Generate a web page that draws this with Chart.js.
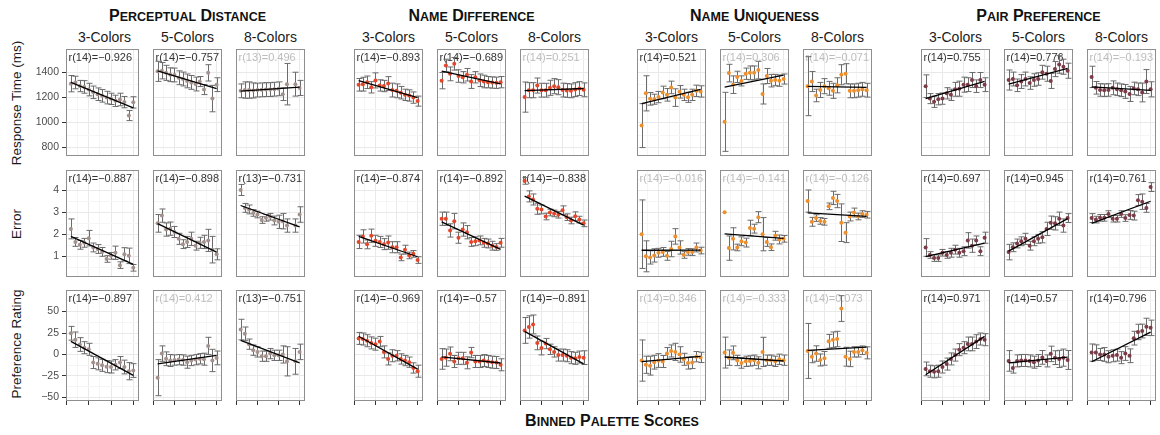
<!DOCTYPE html>
<html>
<head>
<meta charset="utf-8">
<title>Binned palette scores</title>
<script src="https://cdn.jsdelivr.net/npm/chart.js@4.4.1/dist/chart.umd.min.js"></script>
<style>
  body { margin: 0; background: #ffffff; }
  #wrap { position: relative; width: 1160px; height: 435px; overflow: hidden;
          font-family: "Liberation Sans", Arial, Helvetica, sans-serif; color: #1a1a1a; }
  #wrap canvas { position: absolute; }
  .group-title { position: absolute; top: 8px; font-weight: bold; font-size: 16px; line-height: 16px;
                 white-space: nowrap; transform: translateX(-50%); color: #111; }
  .group-title .sc { font-size: 12.5px; text-transform: uppercase; }
  .strip { position: absolute; top: 30px; font-size: 14px; line-height: 14px; white-space: nowrap;
           transform: translateX(-50%); color: #1a1a1a; }
  .y-title { position: absolute; left: 17px; font-size: 13.5px; line-height: 14px; white-space: nowrap;
             transform: translate(-50%, -50%) rotate(-90deg); color: #1a1a1a; }
</style>
</head>
<body>
<div id="wrap"></div>
<script>
// ---- categories -------------------------------------------------------------
const metrics = ['Perceptual Distance', 'Name Difference', 'Name Uniqueness', 'Pair Preference'];
const paletteSizes = ['3-Colors', '5-Colors', '8-Colors'];
const measures = ['Response Time (ms)', 'Error', 'Preference Rating'];
const xTitle = 'Binned Palette Scores';
const bins = [1, 2, 3, 4, 5, 6, 7, 8, 9, 10, 11, 12, 13, 14, 15];
const binTicks = [0, 5, 10, 15];
const metricColors = ['#a3918d', '#e2472b', '#ee8f2d', '#7b3b47'];

// ---- tick labels / axis limits per measure ----------------------------------
const rtTicks = [800, 1000, 1200, 1400];
const errorTicks = [1, 2, 3, 4];
const prefTicks = [-50, -25, 0, 25, 50];
const rtLimits = [733, 1585];
const errorLimits = [0.074, 4.913];
const prefLimits = [-54.2, 75.1];
const binLimits = [-0.1, 16.28];

// ---- response time (ms): bin means, [3, 5, 8 colours] ----------------------
const rtPerceptual = [
  [1309, 1318, 1290, 1283, 1262, 1240, 1225, 1212, 1198, 1188, 1172, 1183, 1162, 1055, 1160],
  [1407, 1412, 1395, 1380, 1378, 1356, 1346, 1331, 1319, 1306, 1326, 1262, 1395, 1190, 1301],
  [1252, 1258, 1258, 1255, 1258, 1260, 1262, 1262, 1265, 1268, 1225, 1305, null, 1305, 1275]
];
const rtNameDifference = [
  [1300, 1305, 1320, 1280, 1335, 1295, 1290, 1310, 1258, 1252, 1237, 1220, 1215, 1198, 1170],
  [1333, 1454, 1387, 1467, 1370, 1360, 1380, 1326, 1360, 1336, 1326, 1321, 1318, 1316, 1321],
  [1202, 1257, 1257, 1294, 1257, 1257, 1276, 1289, 1281, 1258, 1255, 1252, 1262, 1270, 1260]
];
const rtNameUniqueness = [
  [975, 1232, 1188, 1185, 1202, 1239, 1220, 1279, 1198, 1244, 1220, 1200, 1220, 1252, 1247],
  [1005, 1393, 1301, 1363, 1331, 1388, 1395, 1395, 1417, 1227, 1370, 1333, 1338, 1333, 1346],
  [1289, 1326, 1215, 1259, 1289, 1272, 1252, 1296, 1380, 1388, 1252, 1252, 1257, 1264, 1257]
];
const rtPairPreference = [
  [1289, 1190, 1165, 1185, 1190, 1232, 1220, 1264, 1269, 1301, 1301, 1338, 1289, 1338, 1301],
  [1338, 1346, 1296, 1326, 1346, 1314, 1338, 1346, 1400, 1388, 1331, 1425, 1462, 1444, 1412],
  [1363, 1276, 1259, 1257, 1259, 1276, 1264, 1257, 1247, 1227, 1271, 1264, 1239, 1326, 1264]
];
// 95% CI half-widths
const rtPerceptualCI = [
  [65, 50, 45, 50, 50, 50, 50, 50, 50, 45, 45, 50, 45, 40, 45],
  [80, 65, 60, 55, 55, 55, 55, 55, 55, 55, 40, 40, 65, 105, 55],
  [55, 65, 65, 60, 55, 55, 55, 55, 55, 55, 50, 165, null, 95, 60]
];
const rtNameDifferenceCI = [
  [50, 55, 50, 45, 60, 45, 45, 55, 55, 55, 50, 45, 45, 45, 40],
  [65, 50, 55, 50, 50, 45, 50, 55, 45, 50, 50, 45, 45, 45, 45],
  [120, 60, 60, 60, 55, 55, 60, 60, 60, 55, 55, 55, 55, 55, 55]
];
const rtNameUniquenessCI = [
  [175, 140, 50, 40, 45, 50, 50, 50, 70, 50, 45, 40, 45, 45, 45],
  [235, 70, 70, 45, 40, 45, 55, 55, 70, 80, 60, 50, 45, 45, 40],
  [235, 80, 50, 60, 60, 55, 60, 60, 80, 80, 55, 55, 55, 55, 55]
];
const rtPairPreferenceCI = [
  [90, 40, 45, 45, 45, 45, 45, 55, 60, 60, 55, 60, 50, 60, 55],
  [80, 55, 50, 55, 55, 50, 50, 50, 55, 60, 60, 60, 70, 60, 60],
  [85, 50, 50, 50, 50, 55, 50, 50, 55, 60, 50, 50, 75, 95, 60]
];

// ---- error ------------------------------------------------------------------
const errPerceptual = [
  [2.25, 1.66, 1.53, 1.62, 1.83, 1.41, 1.34, 1.21, 0.89, 1.03, 1.17, 0.61, 1.1, 1.03, 0.49],
  [2.5, 2.85, 2.22, 2.26, 2.11, 1.8, 1.56, 1.66, 1.8, 1.49, 1.62, 1.66, 1.73, 1.31, 1.1],
  [4.01, 3.2, 3.13, 2.97, 2.9, 2.65, 2.75, 2.8, 2.63, 2.57, 2.6, 2.4, null, 2.4, 2.9]
];
const errNameDifference = [
  [1.66, 1.91, 1.55, 1.94, 1.71, 1.66, 1.56, 1.63, 1.42, 1.42, 0.96, 1.31, 1.05, 1.12, 0.84],
  [2.71, 2.71, 2.18, 2.6, 1.85, 2.22, 2.1, 1.66, 1.69, 1.73, 1.62, 1.59, 1.49, 1.43, 1.62],
  [4.42, 3.72, 3.58, 3.16, 3.13, 2.81, 2.99, 2.95, 2.89, 3.09, 2.78, 2.63, 2.82, 2.67, 2.5]
];
const errNameUniqueness = [
  [2.01, 1.01, 0.96, 1.05, 1.17, 1.21, 1.03, 1.34, 1.91, 1.41, 1.07, 1.21, 1.2, 1.41, 1.27],
  [3.0, 1.38, 1.8, 1.41, 1.69, 1.63, 2.29, 2.26, 2.78, 2.01, 1.66, 1.42, 1.94, 1.77, 1.8],
  [3.51, 2.57, 2.74, 2.61, 2.57, 3.27, 3.65, 3.51, 2.53, 2.08, 2.81, 2.99, 2.81, 2.92, 2.89]
];
const errPairPreference = [
  [1.41, 1.07, 0.93, 0.93, 1.17, 1.07, 1.17, 1.31, 1.17, 1.24, 1.73, 1.49, 1.73, 1.24, 1.85],
  [1.2, 1.42, 1.59, 1.69, 1.8, 1.49, 1.69, 1.8, 1.87, 2.25, 2.53, 2.5, 2.71, 2.4, 2.74],
  [2.74, 2.67, 2.75, 2.75, 2.92, 2.71, 2.71, 2.92, 2.74, 2.88, 2.85, 3.55, 3.48, 3.2, 4.14]
];
const errPerceptualCI = [
  [0.45, 0.2, 0.2, 0.2, 0.35, 0.2, 0.2, 0.2, 0.15, 0.15, 0.3, 0.15, 0.3, 0.35, 0.15],
  [0.4, 0.3, 0.3, 0.3, 0.25, 0.25, 0.2, 0.25, 0.3, 0.2, 0.25, 0.3, 0.5, 0.6, 0.25],
  [0.25, 0.2, 0.2, 0.15, 0.15, 0.15, 0.15, 0.15, 0.2, 0.3, 0.35, 0.3, null, 0.3, 0.35]
];
const errNameDifferenceCI = [
  [0.3, 0.3, 0.2, 0.3, 0.25, 0.25, 0.25, 0.3, 0.25, 0.25, 0.15, 0.2, 0.15, 0.15, 0.15],
  [0.3, 0.3, 0.3, 0.35, 0.25, 0.3, 0.3, 0.2, 0.2, 0.2, 0.2, 0.2, 0.2, 0.15, 0.2],
  [0.15, 0.25, 0.25, 0.25, 0.2, 0.15, 0.15, 0.15, 0.15, 0.2, 0.15, 0.15, 0.2, 0.15, 0.15]
];
const errNameUniquenessCI = [
  [1.55, 0.7, 0.3, 0.3, 0.2, 0.2, 0.2, 0.35, 0.35, 0.3, 0.15, 0.15, 0.15, 0.2, 0.15],
  [0, 0.55, 0.5, 0.15, 0.2, 0.2, 0.35, 0.2, 0.25, 0.75, 0.2, 0.15, 0.2, 0.2, 0.15],
  [0.5, 0.2, 0.15, 0.15, 0.15, 0.15, 0.3, 0.3, 0.85, 0.45, 0.2, 0.2, 0.15, 0.15, 0.15]
];
const errPairPreferenceCI = [
  [0.4, 0.15, 0.15, 0.15, 0.15, 0.15, 0.2, 0.2, 0.2, 0.2, 0.35, 0.3, 0.2, 0.2, 0.25],
  [0.35, 0.2, 0.2, 0.2, 0.25, 0.2, 0.2, 0.2, 0.25, 0.3, 0.3, 0.3, 0.3, 0.3, 0.2],
  [0.2, 0.15, 0.15, 0.15, 0.15, 0.15, 0.15, 0.15, 0.15, 0.2, 0.2, 0.25, 0.35, 0.2, 0.2]
];

// ---- preference rating -------------------------------------------------------
const prefPerceptual = [
  [24.7, 17.2, 11.6, 7.9, 6, -9.4, -10.9, -12.7, -14.2, -14.6, -12, -9.4, -14.6, -19.5, -18.7],
  [-27, 1, -5, -7, -6.5, -6, -6.5, -9, -7, -6, -5, -5.5, 10, -7, -4],
  [29, 24, 12, 5, 3, -2, -2, 1, -1, -1, 0, -8, null, -8, 3]
];
const prefNameDifference = [
  [18.7, 18, 16, 13.5, 12, 15, 3, -5.2, -1.5, -1.5, -5.2, -7.1, -9, -15.7, -19.5],
  [-5.2, -3.7, 0.7, -8.2, -4.5, -4.5, -9.7, 2.2, -8.2, -8.2, -7.1, -8.2, -9, -9.4, -12],
  [28, 32, 35, 13.5, 7.5, 12.7, 6, 3, -0.7, -0.7, -1.5, -3.7, -4.5, -3, -3.7]
];
const prefNameUniqueness = [
  [-7.1, -12, -13, -9, -7, -8.2, 1.1, 4.1, 3, 0, -5.6, -10, -9.4, -2.6, -3.4],
  [2.2, -3.7, 1.9, -7, -10, -8, -7.5, -6.7, -9.7, 3, -6.7, -6.7, -8, -5.6, -6.7],
  [4.1, -2.6, 1.1, -6.4, -4.5, 15.3, 17.2, 18, 53.5, -2.6, -5.2, 3, 3, 4.9, 1.9]
];
const prefPairPreference = [
  [-16.8, -19.5, -20.2, -19.5, -14.6, -11.2, -5.2, -0.7, 5.6, 7.9, 12.3, 12.3, 15, 18, 17.2],
  [-7.5, -15.7, -7.5, -7, -7, -7.5, -9, -7, -3.4, -7.5, 0.7, -3.7, -5.2, -3.7, -6.4],
  [2.2, 2.2, 0, 0, -2.6, -1.5, -0.7, -3.7, 1.1, -1.5, 19, 26.2, 27.3, 32.2, 31]
];
const prefPerceptualCI = [
  [8, 9, 8, 7, 7, 7, 7, 7, 7, 7, 6, 7, 8, 10, 8],
  [21, 9, 8, 7, 6, 6, 6, 7, 6, 6, 6, 7, 10, 13, 8],
  [12, 8, 6, 6, 6, 6, 6, 6, 6, 6, 10, 17, null, 15, 9]
];
const prefNameDifferenceCI = [
  [7, 7, 7, 7, 7, 6, 7, 7, 7, 6, 6, 6, 6, 6, 7],
  [12, 10, 8, 7, 7, 7, 7, 6, 7, 7, 7, 7, 7, 7, 7],
  [15, 13, 11, 8, 8, 6, 6, 6, 7, 7, 7, 7, 7, 7, 8]
];
const prefNameUniquenessCI = [
  [24, 10, 11, 8, 8, 7, 7, 7, 10, 9, 7, 7, 7, 6, 6],
  [18, 9, 8, 6, 6, 6, 6, 6, 7, 17, 6, 6, 6, 6, 6],
  [32, 7, 9, 7, 8, 8, 9, 9, 15, 11, 9, 6, 6, 5, 7]
];
const prefPairPreferenceCI = [
  [8, 7, 7, 7, 7, 7, 7, 7, 7, 7, 8, 8, 8, 7, 7],
  [12, 6, 7, 7, 7, 7, 7, 7, 8, 7, 9, 8, 10, 10, 11],
  [10, 9, 7, 8, 7, 7, 7, 7, 8, 8, 8, 9, 8, 10, 9]
];

// ---- correlation coefficients ---------------------------------------------------
const rResponseTime = [[-0.926, -0.757, 0.496], [-0.893, -0.689, 0.251], [0.521, 0.306, -0.071], [0.755, 0.776, -0.193]];
const rError = [[-0.887, -0.898, -0.731], [-0.874, -0.892, -0.838], [-0.016, -0.141, -0.126], [0.697, 0.945, 0.761]];
const rPreference = [[-0.897, 0.412, -0.751], [-0.969, -0.57, -0.891], [0.346, -0.333, 0.073], [0.971, 0.57, 0.796]];
// two-tailed p < .05 threshold on |r| by number of bins
const criticalR = { 15: 0.514, 14: 0.532 };

// ---- assemble rows ------------------------------------------------------------
const rows = [
  { title: measures[0], ticks: rtTicks, limits: rtLimits, r: rResponseTime,
    values: [rtPerceptual, rtNameDifference, rtNameUniqueness, rtPairPreference],
    ci: [rtPerceptualCI, rtNameDifferenceCI, rtNameUniquenessCI, rtPairPreferenceCI] },
  { title: measures[1], ticks: errorTicks, limits: errorLimits, r: rError,
    values: [errPerceptual, errNameDifference, errNameUniqueness, errPairPreference],
    ci: [errPerceptualCI, errNameDifferenceCI, errNameUniquenessCI, errPairPreferenceCI] },
  { title: measures[2], ticks: prefTicks, limits: prefLimits, r: rPreference,
    values: [prefPerceptual, prefNameDifference, prefNameUniqueness, prefPairPreference],
    ci: [prefPerceptualCI, prefNameDifferenceCI, prefNameUniquenessCI, prefPairPreferenceCI] }
];

// ---- layout -------------------------------------------------------------------
const FONT = '"Liberation Sans", Arial, Helvetica, sans-serif';
Chart.defaults.font.family = FONT;
const groupLeft = [66, 350, 633, 917];
const colOffset = [0, 83, 166];
const panelW = 77, panelH = 115;
const rowTop = [45, 166, 286];
const yAxisW = 66, xTickH = 5;
const GRID_MAJOR = '#e9e9e9', GRID_MINOR = '#f5f5f5';

const wrap = document.getElementById('wrap');

function minus(v) { return String(v).replace('-', '\u2212'); }

function smallCaps(text) {
  return text.split(' ').map(w => `${w[0]}<span class="sc">${w.slice(1)}</span>`).join(' ');
}

// gridlines: majors at the tick labels, minors halfway between (and one step beyond)
function gridValues(major, limits) {
  const step = major[1] - major[0];
  const out = [];
  for (let v = major[0] - step; v <= major[major.length - 1] + step + 1e-9; v += step / 2) {
    if (v >= limits[0] && v <= limits[1]) out.push(+v.toFixed(6));
  }
  return out;
}

function isMajor(list, v) { return list.some(t => Math.abs(t - v) < 1e-6); }

function linearFit(xs, ys) {
  const n = xs.length;
  const mx = xs.reduce((a, b) => a + b, 0) / n;
  const my = ys.reduce((a, b) => a + b, 0) / n;
  let sxy = 0, sxx = 0;
  for (let i = 0; i < n; i++) { sxy += (xs[i] - mx) * (ys[i] - my); sxx += (xs[i] - mx) ** 2; }
  const slope = sxy / sxx;
  return x => my + slope * (x - mx);
}

function addPanel(g, c, r) {
  const row = rows[r];
  const isLeft = g === 0 && c === 0;
  const isBottom = r === 2;
  const padL = isLeft ? yAxisW : 0;
  const padB = isBottom ? xTickH : 0;
  const W = panelW + padL, H = panelH + padB;

  const cv = document.createElement('canvas');
  cv.width = W; cv.height = H;
  cv.style.width = W + 'px'; cv.style.height = H + 'px';
  cv.style.left = (groupLeft[g] + colOffset[c] - padL) + 'px';
  cv.style.top = rowTop[r] + 'px';
  wrap.appendChild(cv);

  const vals = row.values[g][c];
  const ci = row.ci[g][c];
  const points = bins.map((b, i) => ({ x: b, y: vals[i] }));
  const valid = bins.map((b, i) => [b, vals[i]]).filter(p => p[1] !== null);
  const fit = linearFit(valid.map(p => p[0]), valid.map(p => p[1]));
  const x0 = valid[0][0], x1 = valid[valid.length - 1][0];
  const fitLine = [{ x: x0, y: fit(x0) }, { x: x1, y: fit(x1) }];

  const rVal = row.r[g][c];
  const n = valid.length;
  const label = `r(${n - 1})=${minus(rVal)}`;
  const significant = Math.abs(rVal) >= criticalR[n];

  const yGrid = gridValues(row.ticks, row.limits);
  const xGrid = gridValues(binTicks, binLimits);

  const panelPlugin = {
    id: 'panelDecor',
    beforeDatasetsDraw(chart) {
      const { ctx, chartArea: a, scales: { x, y } } = chart;
      ctx.save();
      ctx.beginPath();
      ctx.rect(a.left, a.top, a.width, a.height);
      ctx.clip();
      // correlation label
      ctx.font = `11px ${FONT}`;
      ctx.fillStyle = significant ? '#333333' : '#bdbdbd';
      ctx.textBaseline = 'alphabetic';
      ctx.textAlign = 'left';
      ctx.fillText(label, a.left + 2.5, a.top + 11.7);
      // confidence interval whiskers
      ctx.strokeStyle = '#6b6b6b';
      ctx.lineWidth = 1;
      bins.forEach((b, i) => {
        if (vals[i] === null || !ci[i]) return;
        const px = Math.round(x.getPixelForValue(b)) + 0.5;
        const yLo = y.getPixelForValue(vals[i] - ci[i]);
        const yHi = y.getPixelForValue(vals[i] + ci[i]);
        ctx.beginPath();
        ctx.moveTo(px, yLo); ctx.lineTo(px, yHi);
        ctx.moveTo(px - 3, yLo); ctx.lineTo(px + 3, yLo);
        ctx.moveTo(px - 3, yHi); ctx.lineTo(px + 3, yHi);
        ctx.stroke();
      });
      ctx.restore();
    },
    afterDraw(chart) {
      const { ctx, chartArea: a } = chart;
      ctx.save();
      ctx.strokeStyle = '#8e8e8e';
      ctx.lineWidth = 1;
      ctx.strokeRect(a.left + 0.5, a.top + 0.5, a.width - 1, a.height - 1);
      ctx.restore();
    }
  };

  new Chart(cv, {
    type: 'scatter',
    data: {
      datasets: [
        { type: 'line', data: fitLine, borderColor: '#000000', borderWidth: 1.3,
          pointRadius: 0, fill: false, tension: 0, order: 0 },
        { data: points, backgroundColor: metricColors[g], borderWidth: 0,
          pointRadius: 2, order: 1 }
      ]
    },
    options: {
      responsive: false,
      animation: false,
      events: [],
      layout: { padding: 0 },
      plugins: { legend: { display: false }, tooltip: { enabled: false } },
      scales: {
        x: {
          type: 'linear', min: binLimits[0], max: binLimits[1],
          afterBuildTicks: s => { s.ticks = xGrid.map(v => ({ value: v })); },
          afterFit: s => { s.height = padB; s.paddingLeft = 0; s.paddingRight = 0; },
          ticks: { display: false },
          grid: {
            drawTicks: isBottom, tickLength: 4, lineWidth: 1,
            color: cx => isMajor(binTicks, cx.tick.value) ? GRID_MAJOR : GRID_MINOR,
            tickColor: cx => isMajor(binTicks, cx.tick.value) ? '#333333' : 'rgba(0,0,0,0)'
          },
          border: { display: false }
        },
        y: {
          type: 'linear', min: row.limits[0], max: row.limits[1],
          afterBuildTicks: s => { s.ticks = yGrid.map(v => ({ value: v })); },
          afterFit: s => { s.width = padL; s.paddingTop = 0; s.paddingBottom = 0; },
          ticks: {
            display: isLeft, autoSkip: false, padding: 3,
            color: '#4d4d4d', font: { size: 10.5 },
            callback: v => isMajor(row.ticks, v) ? minus(v) : ''
          },
          grid: {
            drawTicks: isLeft, tickLength: 4, lineWidth: 1,
            color: cx => isMajor(row.ticks, cx.tick.value) ? GRID_MAJOR : GRID_MINOR,
            tickColor: cx => isMajor(row.ticks, cx.tick.value) ? '#333333' : 'rgba(0,0,0,0)'
          },
          border: { display: false }
        }
      }
    },
    plugins: [panelPlugin]
  });
}

// ---- text: facet titles and measure titles -------------------------------------
metrics.forEach((m, g) => {
  const t = document.createElement('div');
  t.className = 'group-title';
  t.style.left = (groupLeft[g] + (colOffset[2] + panelW) / 2) + 'px';
  t.innerHTML = smallCaps(m);
  wrap.appendChild(t);
  paletteSizes.forEach((p, c) => {
    const s = document.createElement('div');
    s.className = 'strip';
    s.style.left = (groupLeft[g] + colOffset[c] + panelW / 2) + 'px';
    s.textContent = p;
    wrap.appendChild(s);
  });
});

measures.forEach((m, r) => {
  const t = document.createElement('div');
  t.className = 'y-title';
  t.style.top = (rowTop[r] + panelH / 2) + 'px';
  t.textContent = m;
  wrap.appendChild(t);
});

const xt = document.createElement('div');
xt.className = 'group-title';
xt.style.top = '413px';
xt.style.left = '612px';
xt.innerHTML = smallCaps(xTitle);
wrap.appendChild(xt);

// ---- panels ---------------------------------------------------------------------
for (let r = 0; r < 3; r++)
  for (let g = 0; g < 4; g++)
    for (let c = 0; c < 3; c++)
      addPanel(g, c, r);
</script>
</body>
</html>
